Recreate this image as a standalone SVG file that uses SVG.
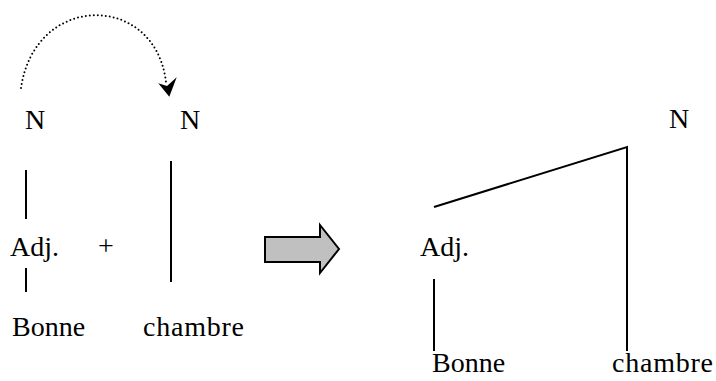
<svg xmlns="http://www.w3.org/2000/svg" width="716" height="381" viewBox="0 0 716 381">
<style>
text{font-family:"Liberation Serif","Times New Roman",serif;font-size:28px;fill:#000}
.l{stroke:#000;stroke-width:2;fill:none}
</style>
<rect width="716" height="381" fill="#fff"/>
<g id="connectors">
<line class="l" x1="26" y1="170" x2="26" y2="219"/>
<line class="l" x1="26" y1="268" x2="26" y2="292"/>
<line class="l" x1="171" y1="161" x2="171" y2="282"/>
<polyline class="l" points="434,207 627,147 627,351"/>
<line class="l" x1="434" y1="279" x2="434" y2="351"/>
<path d="M21,88 C35,-8 155,-8 166,82" fill="none" stroke="#000" stroke-width="2" stroke-linecap="round" stroke-dasharray="0 4"/>
<polygon points="158.3,83.3 167,86 176.7,77.3 169.3,96.7" fill="#000"/>
</g>
<g id="block-arrow">
<polygon points="265,237 320,237 320,225 339,249 320,273 320,262 265,262" fill="#c0c0c0" stroke="#000" stroke-width="2" stroke-linejoin="miter"/>
</g>
<g id="n-left"><text x="25" y="129">N</text></g>
<g id="n-mid"><text x="180" y="129">N</text></g>
<g id="adj-left"><text x="10" y="256">Adj.</text></g>
<g id="plus"><text x="98" y="255">+</text></g>
<g id="bonne-left"><text x="12" y="336">Bonne</text></g>
<g id="chambre-left"><text x="143" y="336" textLength="101" lengthAdjust="spacing">chambre</text></g>
<g id="n-right"><text x="669" y="128">N</text></g>
<g id="adj-right"><text x="420" y="256">Adj.</text></g>
<g id="bonne-right"><text x="432" y="372">Bonne</text></g>
<g id="chambre-right"><text x="612" y="372" textLength="101" lengthAdjust="spacing">chambre</text></g>
</svg>
